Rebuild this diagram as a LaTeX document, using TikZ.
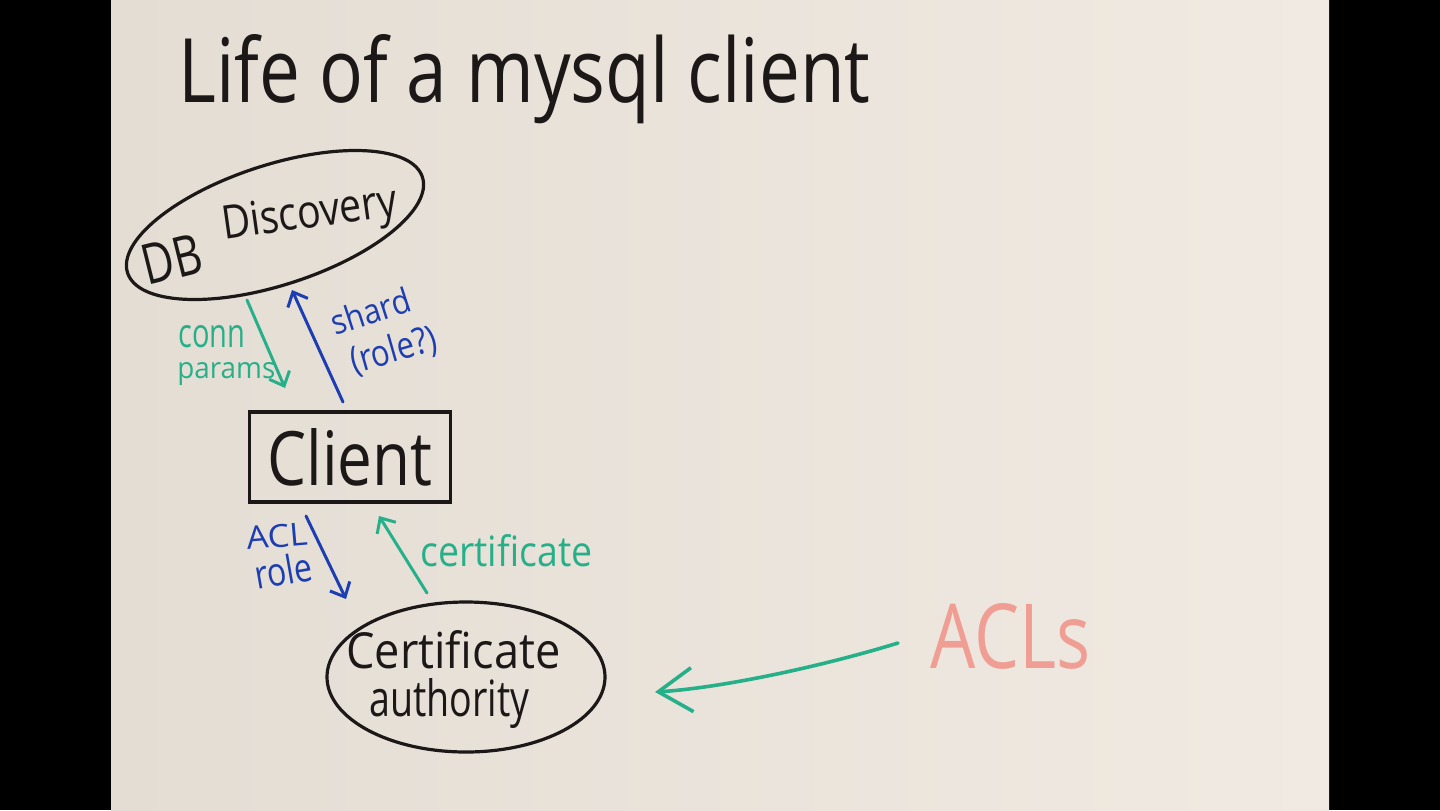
\documentclass[tikz,border=0pt]{standalone}
\usepackage{fontspec}
\setmainfont{Open Sans}
\usepackage{graphicx}
\usetikzlibrary{arrows.meta,shapes.geometric}
\definecolor{ink}{RGB}{28,24,24}
\definecolor{mgreen}{RGB}{38,176,138}
\definecolor{mblue}{RGB}{28,62,178}
\definecolor{mpink}{RGB}{240,158,148}
\definecolor{boardL}{RGB}{228,221,212}
\definecolor{boardR}{RGB}{241,234,226}
\newcommand\hw[3]{\resizebox{#1pt}{#2pt}{#3}}
\begin{document}
\begin{tikzpicture}[x=0.5pt,y=-0.5pt,
  lbl/.style={inner sep=0pt, anchor=base west},
  shapeline/.style={draw=ink, line width=1.6pt},
  marker/.style={line width=1.5pt, line cap=round, -{Straight Barb[length=6pt,width=11pt]}},
]
\fill[black] (0,0) rectangle (1440,810);
\shade[left color=boardL, right color=boardR] (111,0) rectangle (1329,810);
\useasboundingbox (0,0) rectangle (1440,810);

% title
\node[lbl, text=ink] (title) at (178,102) {\hw{346}{34}{Life of a mysql client}};

% DB discovery
\node[shapeline, ellipse, rotate=18, minimum width=155pt, minimum height=60pt, inner sep=0pt] (db) at (275,225) {};
\node[lbl, rotate=14, text=ink] (dbt1) at (147,286) {\hw{30}{20}{DB}};
\node[lbl, rotate=8, text=ink] (dbt2) at (224,240) {\hw{88}{17}{Discovery}};

% client
\node[shapeline, rectangle, minimum width=100.5pt, minimum height=45pt, inner sep=0pt, text=ink] (client) at (350,457) {\hw{82.5}{28.5}{Client}};

% certificate authority
\node[shapeline, ellipse, minimum width=139pt, minimum height=75pt, inner sep=0pt] (ca) at (466,677) {};
\node[lbl, text=ink] (cat1) at (346,668) {\hw{107}{19}{Certificate}};
\node[lbl, text=ink] (cat2) at (369,716) {\hw{80}{19}{authority}};

% ACLs
\node[lbl, text=mpink] (acls) at (930,668) {\hw{80}{32.5}{ACLs}};

% labels
\node[lbl, text=mgreen] (conn) at (178,347) {\hw{33.5}{11}{conn}};
\node[lbl, text=mgreen] (params) at (177,378) {\hw{49}{8}{params}};
\node[lbl, text=mblue, rotate=18] (shard) at (335,336) {\hw{41}{13}{shard}};
\node[lbl, text=mblue, rotate=16] (rolq) at (354,374) {\hw{44}{14}{(role?)}};
\node[lbl, text=mblue, rotate=5] (acl) at (247,550) {\hw{30.5}{11.5}{ACL}};
\node[lbl, text=mblue, rotate=10] (role) at (257,590) {\hw{29}{15}{role}};
\node[lbl, text=mgreen] (cert) at (420,566) {\hw{86}{16}{certificate}};

% connector ends
\coordinate (a1s) at (247,300);
\coordinate (a1e) at (285,388);
\coordinate (a2s) at (343,402);
\coordinate (a2e) at (292,290);
\coordinate (a3s) at (306,516);
\coordinate (a3e) at (346,599);
\coordinate (a4s) at (427,593);
\coordinate (a4e) at (379,516);
\coordinate (a5s) at (898,643);
\coordinate (a5e) at (655,692);

\draw[marker, draw=mgreen] (a1s) -- (a1e);
\draw[marker, draw=mblue] (a2s) -- (a2e);
\draw[marker, draw=mblue] (a3s) -- (a3e);
\draw[marker, draw=mgreen] (a4s) -- (a4e);
\draw[marker, draw=mgreen, line width=1.8pt, -{Straight Barb[length=17pt,width=22pt]}] (a5s) .. controls (820,667) and (720,688) .. (a5e);
\end{tikzpicture}
\end{document}
